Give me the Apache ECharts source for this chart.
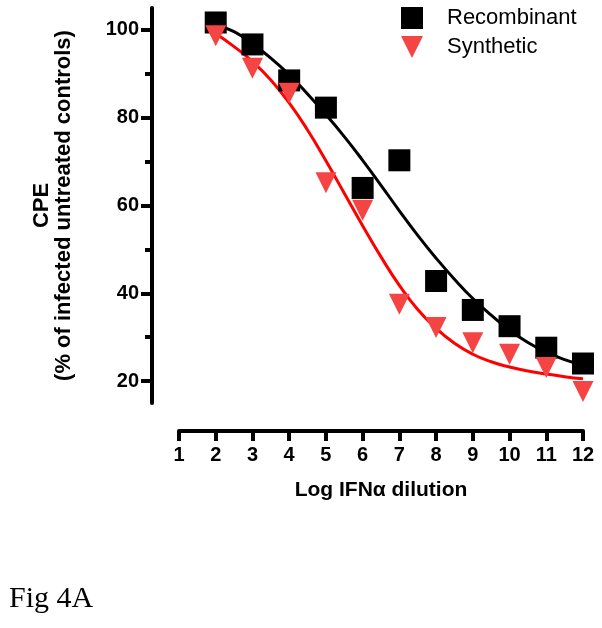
<!DOCTYPE html>
<html>
<head>
<meta charset="utf-8">
<script src="https://cdn.jsdelivr.net/npm/echarts@6/dist/echarts.min.js"></script>
<style>
html,body{margin:0;padding:0;background:#fff;}
#chart{width:602px;height:628px;}
</style>
</head>
<body>
<div id="chart"></div>
<script>
// Data
var xDilution = [2, 3, 4, 5, 6, 7, 8, 9, 10, 11, 12];
var recombinant = [101.7, 96.7, 88.5, 82.3, 64.0, 70.3, 42.8, 36.2, 32.5, 27.6, 24.0];
var synthetic = [98.7, 91.3, 85.6, 65.2, 58.9, 37.5, 32.2, 28.7, 26.1, 23.1, 17.6];

// fitted curves
var fitX = [2, 2.5, 3, 3.5, 4, 4.5, 5, 5.5, 6, 6.5, 7, 7.5, 8, 8.5, 9, 9.5, 10, 10.5, 11, 11.5, 12];
var recombinantFit = [101.2, 99.6, 96.8, 93.6, 89.8, 85.4, 80.7, 75.7, 70.3, 64.6, 58.8, 53.2, 48.0, 43.2, 38.8, 35.0, 31.6, 28.8, 26.6, 24.9, 23.6];
var syntheticFit = [99.2, 96.2, 92.8, 88.6, 83.4, 77.2, 70.2, 62.8, 55.4, 48.3, 41.8, 36.3, 32.0, 28.6, 26.1, 24.4, 23.2, 22.3, 21.6, 21.0, 20.5];

var xTicks = [1, 2, 3, 4, 5, 6, 7, 8, 9, 10, 11, 12];
var yMajorTicks = [20, 40, 60, 80, 100];
var yMinorTicks = [30, 50, 70, 90];

function pairs(xs, ys) { return xs.map(function (x, i) { return [x, ys[i]]; }); }

var FONT = "'Liberation Sans', Arial, Helvetica, sans-serif";
var RED_MARK = '#F44444';
var RED_LINE = '#FF0000';

var chart = echarts.init(document.getElementById('chart'), null, {renderer: 'canvas'});
chart.setOption({
  animation: false,
  backgroundColor: '#ffffff',
  grid: {left: 179, right: 19, top: 8, bottom: 225, containLabel: false},
  xAxis: {
    type: 'value', min: xTicks[0], max: xTicks[xTicks.length - 1], interval: 1,
    offset: 28,
    name: 'Log IFN\u03B1 dilution', nameLocation: 'middle', nameGap: 49,
    nameTextStyle: {fontFamily: FONT, fontWeight: 'bold', fontSize: 21, color: '#000'},
    axisLine: {show: true, lineStyle: {color: '#000', width: 4}},
    axisTick: {show: true, length: 10, lineStyle: {color: '#000', width: 4}},
    axisLabel: {margin: 14, fontFamily: FONT, fontWeight: 'bold', fontSize: 20, color: '#000'},
    splitLine: {show: false}
  },
  yAxis: [{
    type: 'value', min: 15, max: 105, position: 'left', offset: 27,
    name: 'CPE\n(% of infected untreated controls)', nameLocation: 'middle', nameRotate: 90, nameGap: 77,
    nameTextStyle: {fontFamily: FONT, fontWeight: 'bold', fontSize: 22, lineHeight: 22, color: '#000', align: 'center'},
    axisLine: {show: true, lineStyle: {color: '#000', width: 4}},
    axisTick: {show: true, length: 11, customValues: yMajorTicks, lineStyle: {color: '#000', width: 4}},
    axisLabel: {margin: 13, customValues: yMajorTicks, fontFamily: FONT, fontWeight: 'bold', fontSize: 20, color: '#000'},
    splitLine: {show: false}
  }, {
    type: 'value', min: 15, max: 105, position: 'left', offset: 27,
    axisLine: {show: false},
    axisTick: {show: true, length: 7, customValues: yMinorTicks, lineStyle: {color: '#000', width: 4}},
    axisLabel: {show: false},
    splitLine: {show: false}
  }],
  legend: {
    orient: 'vertical', left: 401, top: 7, padding: 0, itemWidth: 22, itemHeight: 22, itemGap: 7,
    textStyle: {fontFamily: FONT, fontSize: 22, color: '#000', padding: [0, 0, 0, 19]},
    data: [
      {name: 'Recombinant', icon: 'rect'},
      {name: 'Synthetic', icon: 'path://M0,0 L20,0 L10,20 Z'}
    ]
  },
  series: [
    {name: 'Recombinant fit', type: 'line', smooth: true, showSymbol: false, data: pairs(fitX, recombinantFit),
      lineStyle: {color: '#000', width: 3}, itemStyle: {color: '#000'}, z: 2},
    {name: 'Synthetic fit', type: 'line', smooth: true, showSymbol: false, data: pairs(fitX, syntheticFit),
      lineStyle: {color: RED_LINE, width: 3}, itemStyle: {color: RED_LINE}, z: 2},
    {name: 'Recombinant', type: 'scatter', symbol: 'rect', symbolSize: 22, data: pairs(xDilution, recombinant),
      itemStyle: {color: '#000', opacity: 1}, z: 3},
    {name: 'Synthetic', type: 'scatter', symbol: 'triangle', symbolRotate: 180, symbolSize: [21, 21], data: pairs(xDilution, synthetic),
      itemStyle: {color: RED_MARK, opacity: 1}, z: 4}
  ],
  graphic: [{
    type: 'text', left: 9, top: 584,
    style: {text: 'Fig 4A', fontFamily: "'Liberation Serif', 'Times New Roman', serif", fontSize: 30, fill: '#000'}
  }]
});
</script>
</body>
</html>
